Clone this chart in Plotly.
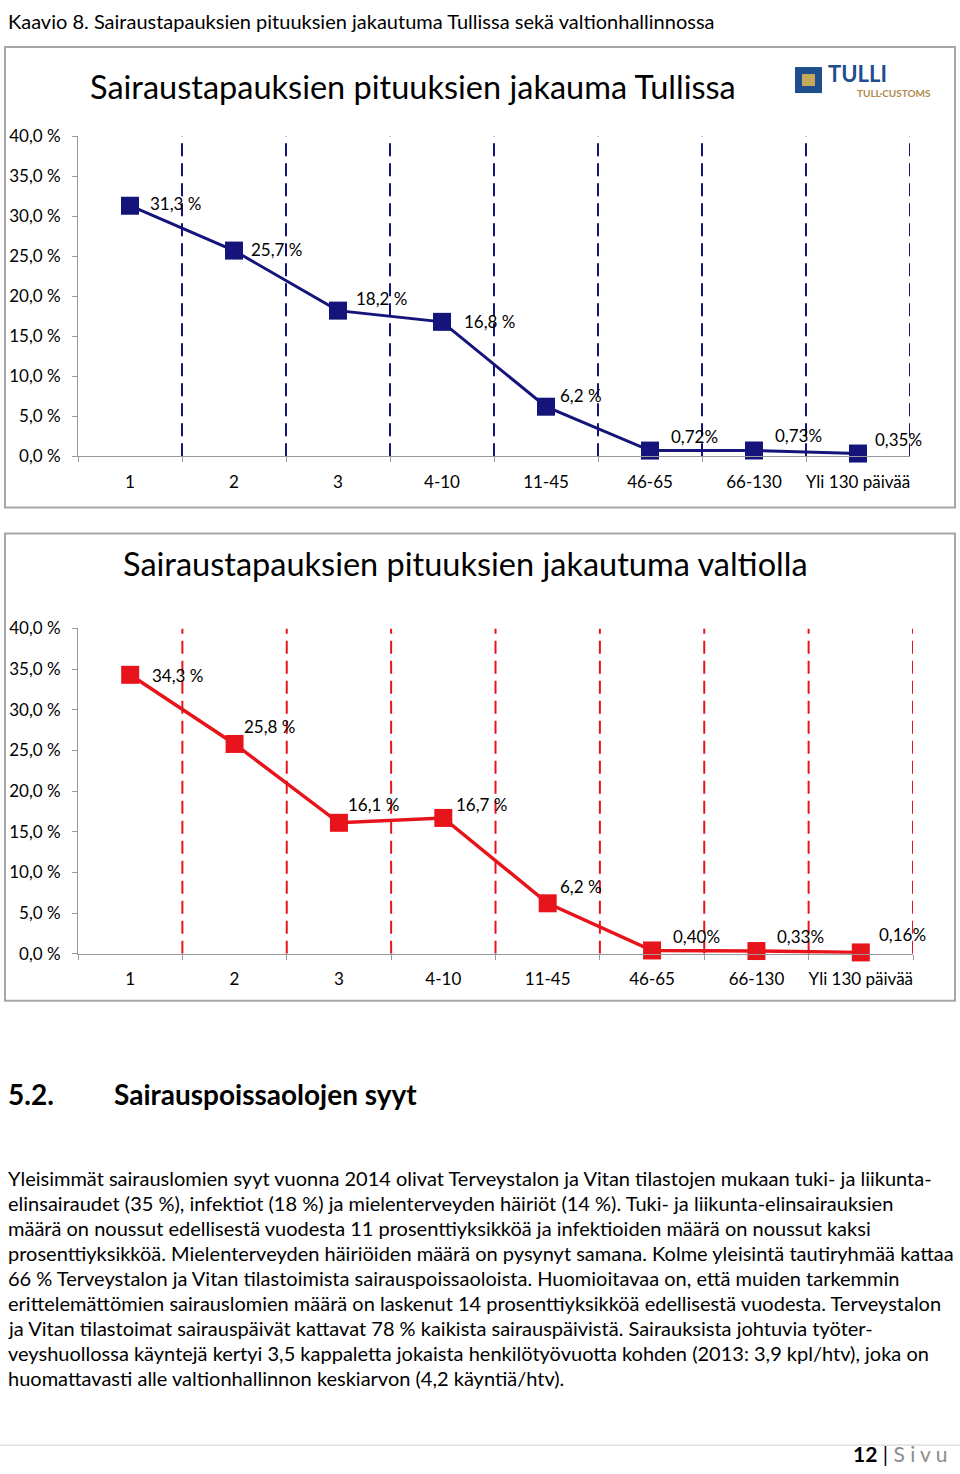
import plotly.graph_objects as go

W, H = 960, 1474

# ---------------- data ----------------
categories = ["1", "2", "3", "4-10", "11-45", "46-65", "66-130", "Yli 130 päivää"]
tulli_values = [31.3, 25.7, 18.2, 16.8, 6.2, 0.72, 0.73, 0.35]
tulli_labels = ["31,3 %", "25,7 %", "18,2 %", "16,8 %", "6,2 %", "0,72%", "0,73%", "0,35%"]
valtio_values = [34.3, 25.8, 16.1, 16.7, 6.2, 0.40, 0.33, 0.16]
valtio_labels = ["34,3 %", "25,8 %", "16,1 %", "16,7 %", "6,2 %", "0,40%", "0,33%", "0,16%"]
y_tick_values = [0, 5, 10, 15, 20, 25, 30, 35, 40]
y_tick_labels = ["0,0 %", "5,0 %", "10,0 %", "15,0 %", "20,0 %", "25,0 %", "30,0 %", "35,0 %", "40,0 %"]

caption = "Kaavio 8. Sairaustapauksien pituuksien jakautuma Tullissa sekä valtionhallinnossa"
title1 = "Sairaustapauksien pituuksien jakauma Tullissa"
title2 = "Sairaustapauksien pituuksien jakautuma valtiolla"
paragraph_lines = [
    "Yleisimmät sairauslomien syyt vuonna 2014 olivat Terveystalon ja Vitan tilastojen mukaan tuki- ja liikunta-",
    "elinsairaudet (35 %), infektiot (18 %) ja mielenterveyden häiriöt (14 %). Tuki- ja liikunta-elinsairauksien",
    "määrä on noussut edellisestä vuodesta 11 prosenttiyksikköä ja infektioiden määrä on noussut kaksi",
    "prosenttiyksikköä. Mielenterveyden häiriöiden määrä on pysynyt samana. Kolme yleisintä tautiryhmää kattaa",
    "66 % Terveystalon ja Vitan tilastoimista sairauspoissaoloista. Huomioitavaa on, että muiden tarkemmin",
    "erittelemättömien sairauslomien määrä on laskenut 14 prosenttiyksikköä edellisestä vuodesta. Terveystalon",
    "ja Vitan tilastoimat sairauspäivät kattavat 78 % kaikista sairauspäivistä. Sairauksista johtuvia työter-",
    "veyshuollossa käyntejä kertyi 3,5 kappaletta jokaista henkilötyövuotta kohden (2013: 3,9 kpl/htv), joka on",
    "huomattavasti alle valtionhallinnon keskiarvon (4,2 käyntiä/htv).",
]

# ---------------- style ----------------
FONT = "Lato"
NAVY = "#14147a"
RED = "#e8141c"
AXIS_GRAY = "#9a9a9a"
BOX_GRAY = "#a6a6a6"

# label offsets (pixels) for data labels
off1 = [(20, 2), (17, 1), (18, 12), (22, 0), (14, 11), (21, 14), (21, 15), (17, 14)]
off2 = [(22, -1), (9, 17), (9, 18), (13, 13), (12, 17), (21, 14), (21, 15), (18, 18)]

# vertical placement correction (observed in rendering)
Y0, SY = 11.0, 0.985


def py(p):
    f = (p - Y0) / SY
    f = min(max(f, 0.0), H)
    return 1 - f / H


def px(p):
    return p / W


fig = go.Figure()

fig.add_trace(go.Scatter(
    x=categories, y=tulli_values, mode="lines+markers", xaxis="x", yaxis="y",
    line=dict(color=NAVY, width=3),
    marker=dict(symbol="square", size=18, color=NAVY),
    showlegend=False, hoverinfo="skip", cliponaxis=False,
))
fig.add_trace(go.Scatter(
    x=categories, y=valtio_values, mode="lines+markers", xaxis="x2", yaxis="y2",
    line=dict(color=RED, width=3.5),
    marker=dict(symbol="square", size=18, color=RED),
    showlegend=False, hoverinfo="skip", cliponaxis=False,
))

xcommon = dict(
    type="category", categoryorder="array", categoryarray=categories,
    range=[-0.5, len(categories) - 0.5], showgrid=False, zeroline=False,
    showline=True, linecolor=AXIS_GRAY, linewidth=1,
    ticks="outside", tickson="boundaries", ticklen=5, tickcolor=AXIS_GRAY,
    tickangle=0,
    tickfont=dict(family=FONT, size=17, color="black"), ticklabelstandoff=10,
    fixedrange=True,
)
ycommon = dict(
    range=[0, 40], tickvals=y_tick_values, ticktext=y_tick_labels,
    showgrid=False, zeroline=False, showline=True, linecolor=AXIS_GRAY, linewidth=1,
    ticks="outside", ticklen=5, tickcolor=AXIS_GRAY,
    tickfont=dict(family=FONT, size=17, color="black"), ticklabelstandoff=8,
    fixedrange=True,
)

shapes = []
# boxes around charts
shapes.append(dict(type="rect", xref="paper", yref="paper",
                   x0=px(5), x1=px(955), y0=py(507), y1=py(47),
                   line=dict(color=BOX_GRAY, width=2), layer="below"))
shapes.append(dict(type="rect", xref="paper", yref="paper",
                   x0=px(5), x1=px(955), y0=py(1000), y1=py(533),
                   line=dict(color=BOX_GRAY, width=2), layer="below"))
# dashed separators at category boundaries
for i in range(len(categories)):
    shapes.append(dict(type="line", xref="x", yref="y", x0=i + 0.5, x1=i + 0.5, y0=0, y1=40,
                       line=dict(color=NAVY, width=2, dash="13px,7px"), layer="below"))
    shapes.append(dict(type="line", xref="x2", yref="y2", x0=i + 0.5, x1=i + 0.5, y0=0, y1=40,
                       line=dict(color=RED, width=2, dash="13px,7px"), layer="below"))
# footer rule
shapes.append(dict(type="line", xref="paper", yref="paper", x0=0, x1=1, y0=py(1444), y1=py(1444),
                   line=dict(color="#d0d0d0", width=1)))
# logo emblem
shapes.append(dict(type="rect", xref="paper", yref="paper",
                   x0=px(795), x1=px(822), y0=py(93), y1=py(67),
                   line=dict(width=0), fillcolor="#1e4f8c"))
shapes.append(dict(type="rect", xref="paper", yref="paper",
                   x0=px(802), x1=px(815), y0=py(86), y1=py(74),
                   line=dict(width=0), fillcolor="#c8a85a"))

annotations = []
for i, lab in enumerate(tulli_labels):
    dx, dy = off1[i]
    annotations.append(dict(x=i, y=tulli_values[i], xref="x", yref="y", text=lab,
                            showarrow=False, xanchor="left", yanchor="middle",
                            xshift=dx - 2, yshift=dy,
                            font=dict(family=FONT, size=17, color="black")))
for i, lab in enumerate(valtio_labels):
    dx, dy = off2[i]
    annotations.append(dict(x=i, y=valtio_values[i], xref="x2", yref="y2", text=lab,
                            showarrow=False, xanchor="left", yanchor="middle",
                            xshift=dx - 2, yshift=dy,
                            font=dict(family=FONT, size=17, color="black")))

# texts
annotations.append(dict(x=px(6), y=py(0), xref="paper", yref="paper", text=caption,
                        showarrow=False, xanchor="left", yanchor="top", yshift=4,
                        font=dict(family=FONT, size=20, color="black")))
annotations.append(dict(x=px(413), y=py(86), xref="paper", yref="paper", text=title1,
                        showarrow=False, xanchor="center", yanchor="middle",
                        font=dict(family=FONT, size=32.5, color="black")))
annotations.append(dict(x=px(465), y=py(563), xref="paper", yref="paper", text=title2,
                        showarrow=False, xanchor="center", yanchor="middle",
                        font=dict(family=FONT, size=32.5, color="black")))
annotations.append(dict(x=px(826), y=py(89), xref="paper", yref="paper", text="<b>TULLI</b>",
                        showarrow=False, xanchor="left", yanchor="bottom",
                        font=dict(family=FONT, size=22, color="#1e4f8c")))
annotations.append(dict(x=px(932), y=py(86), xref="paper", yref="paper", text="<b>TULL·CUSTOMS</b>",
                        showarrow=False, xanchor="right", yanchor="top", borderpad=0,
                        font=dict(family=FONT, size=10, color="#b08a50")))
annotations.append(dict(x=px(6), y=py(1093), xref="paper", yref="paper", text="<b>5.2.</b>",
                        showarrow=False, xanchor="left", yanchor="middle",
                        font=dict(family=FONT, size=28, color="black")))
annotations.append(dict(x=px(112), y=py(1093), xref="paper", yref="paper",
                        text="<b>Sairauspoissaolojen syyt</b>",
                        showarrow=False, xanchor="left", yanchor="middle",
                        font=dict(family=FONT, size=28, color="black")))
for k, line in enumerate(paragraph_lines):
    annotations.append(dict(x=px(6), y=py(1177 + 25 * k), xref="paper", yref="paper", text=line,
                            showarrow=False, xanchor="left", yanchor="middle",
                            font=dict(family=FONT, size=20, color="black")))
annotations.append(dict(x=px(950), y=py(1470), xref="paper", yref="paper",
                        text="<b>12</b> | <span style='color:#8c8c8c'>S i v u</span>",
                        showarrow=False, xanchor="right", yanchor="bottom", yshift=-4,
                        font=dict(family=FONT, size=21, color="black")))

fig.update_layout(
    width=W, height=H, margin=dict(l=0, r=0, t=0, b=0),
    paper_bgcolor="white", plot_bgcolor="rgba(0,0,0,0)",
    xaxis=dict(domain=[px(78), px(910)], anchor="y", **xcommon),
    yaxis=dict(domain=[py(456), py(136)], anchor="x", **ycommon),
    xaxis2=dict(domain=[px(78), px(913)], anchor="y2", **xcommon),
    yaxis2=dict(domain=[py(953), py(628)], anchor="x2", **ycommon),
    shapes=shapes, annotations=annotations, showlegend=False,
)

fig.write_html(
    "out.html",
    config={"displayModeBar": False},
    post_script="document.body.style.margin='0';",
)
